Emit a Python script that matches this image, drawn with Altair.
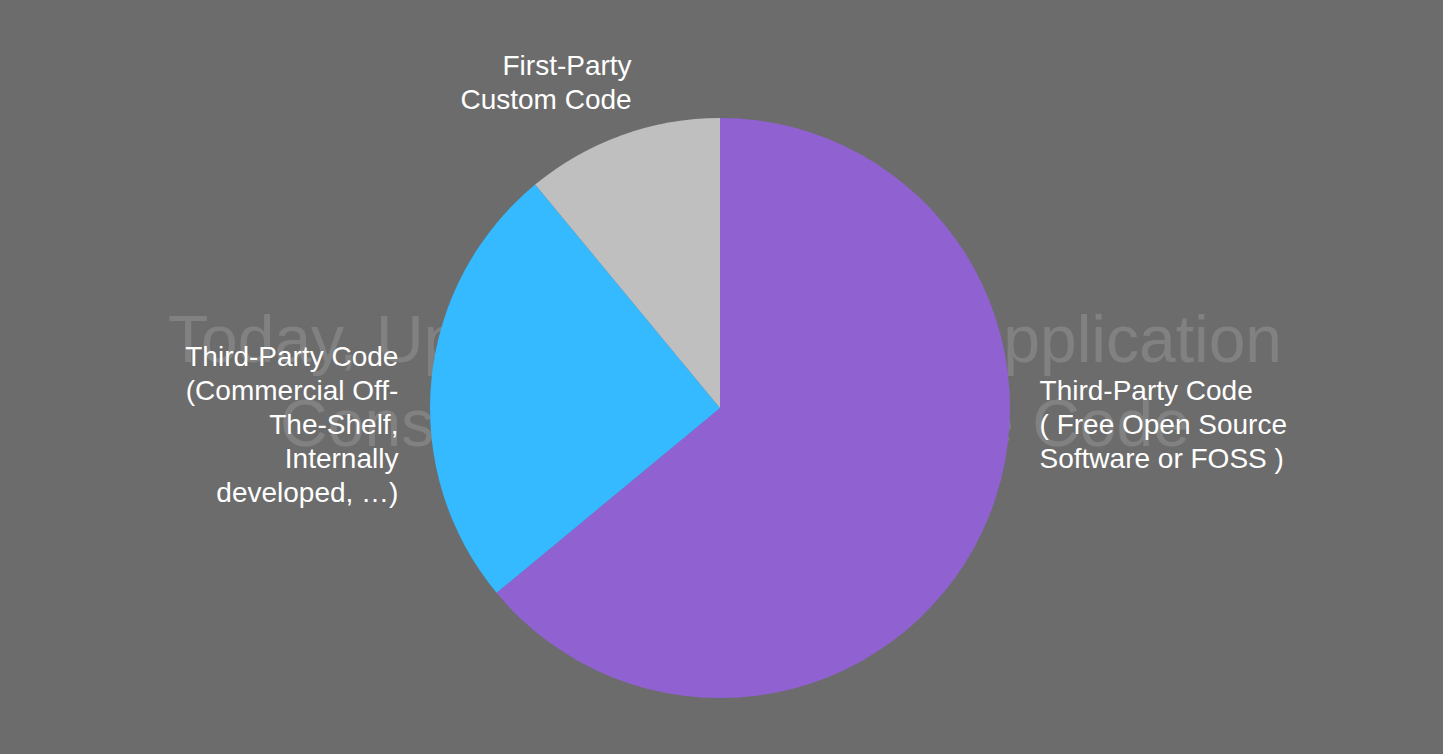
import altair as alt
import pandas as pd

# Data
categories = ["FOSS", "COTS", "First-Party"]
labels = [
    "Third-Party Code\n( Free Open Source\nSoftware or FOSS )",
    "Third-Party Code\n(Commercial Off-\nThe-Shelf,\nInternally\ndeveloped, …)",
    "First-Party\nCustom Code",
]
values = [64, 25, 11]
orders = [1, 2, 3]
colors = ["#9061d0", "#35b9ff", "#bfbfbf"]

title_lines = ["Today, Up to 90% of Every Application", "Consists of Open Source Code"]

df = pd.DataFrame({"cat": categories, "label": labels, "value": values, "ord": orders})
tdf = pd.DataFrame({"line": title_lines, "i": [0, 1]})

CX, CY, R = 720, 408, 290
FONT = "Liberation Sans"

# faint slide title behind the pie
bg1 = alt.Chart(tdf).transform_filter("datum.i == 0").mark_text(
    font=FONT, fontSize=66, color="#ffffff", opacity=0.14, align="left", baseline="alphabetic"
).encode(x=alt.value(168), y=alt.value(362), text="line:N")
bg2 = alt.Chart(tdf).transform_filter("datum.i == 1").mark_text(
    font=FONT, fontSize=66, color="#ffffff", opacity=0.14, align="center", baseline="alphabetic"
).encode(x=alt.value(735), y=alt.value(446), text="line:N")

base = alt.Chart(df).encode(
    theta=alt.Theta("value:Q", stack=True),
    order=alt.Order("ord:Q"),
    x=alt.value(CX),
    y=alt.value(CY),
)

pie = base.mark_arc(radius=R).encode(
    color=alt.Color("cat:N", scale=alt.Scale(domain=categories, range=colors), legend=None)
)


def label_layer(cat, align, dx, dy):
    return base.transform_calculate(
        lbl=f"datum.cat == '{cat}' ? datum.label : ''"
    ).mark_text(
        radius=320, font=FONT, fontSize=28, color="#ffffff", align=align,
        baseline="middle", lineBreak="\n", lineHeight=34, dx=dx, dy=dy,
    ).encode(text="lbl:N")


lab_foss = label_layer("FOSS", "left", 30, -152)
lab_cots = label_layer("COTS", "right", -3, -20)
lab_first = label_layer("First-Party", "right", 20, -40)

chart = alt.layer(bg1, bg2, pie, lab_foss, lab_cots, lab_first).properties(
    width=1443, height=754, padding=0,
    autosize=alt.AutoSizeParams(type="none"),
    background="#6c6c6c",
).configure_view(stroke=None)

chart.save("out.html", embed_options={"renderer": "svg", "actions": False})
